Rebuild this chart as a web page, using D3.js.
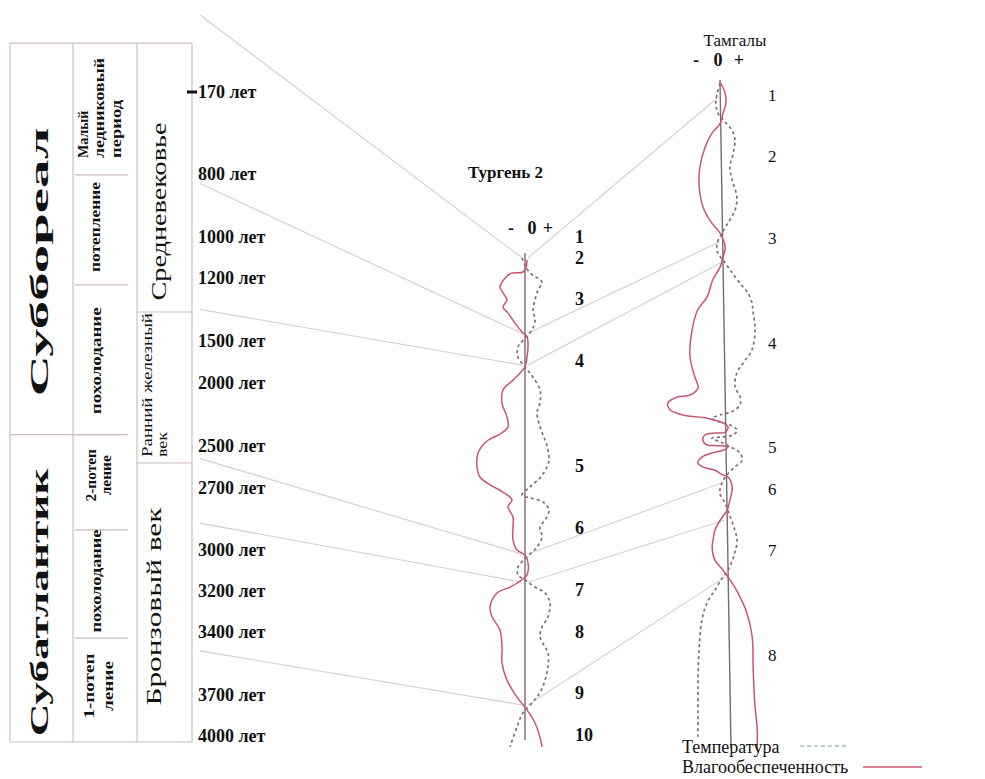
<!DOCTYPE html>
<html>
<head>
<meta charset="utf-8">
<script src="https://cdn.jsdelivr.net/npm/d3@7"></script>
<style>
  body { margin: 0; background: #fff; }
  svg { display: block; }
  text { font-family: "Liberation Serif", "Times New Roman", serif; fill: #111; }
</style>
</head>
<body>
<script>
// Left time scale, years ago
const ageTicks = [170, 800, 1000, 1200, 1500, 2000, 2500, 2700, 3000, 3200, 3400, 3700, 4000];

// Table rows as age boundaries
const epochNames = ["Суббореал", "Субатлантик"];
const epochBounds = [62, 2410, 4044];
const phaseNames = ["Малый\nледниковый\nпериод", "потепление", "похолодание", "2-потеп\nление", "похолодание", "1-потеп\nление"];
const phaseBounds = [62, 803, 1233, 2410, 2903, 3429, 4044];
const cultureNames = ["Средневековье", "Ранний железный\nвек", "Бронзовый век"];
const cultureBounds = [62, 1362, 2581, 4044];

// Correlation: age -> Тургень 2 depth (%) -> Тамгалы depth (%)
const corrAge = [0, 830, 1350, 2560, 2870, 3490];
const corrTurgen = [1, 16.5, 23, 61.8, 67.6, 92.8];
const corrTamgaly = [2.4, 24, 27.2, 60.1, 65.8, 74.3];

// Stage numbers, depth (%)
const turgenStages = [-3.3, 1, 9.4, 22.2, 43.7, 56.5, 69.2, 77.8, 90.3, 99];
const tamgalyStages = [2, 11.1, 23.4, 39.2, 54.8, 61.1, 70.3, 86];

// Curves: [depth %, anomaly]
const turgenMoisture = [[1.4,0.4],[3.1,0.2],[3.9,-0.4],[4.3,-3.0],[6.0,-4.6],[7.0,-5.0],[8.2,-4.4],[9.6,-3.6],[11.1,-4.4],[12.3,-3.4],[14.4,-2.0],[16.2,-0.6],[17.2,0.4],[19.3,0.6],[21.4,0.4],[23.4,0],[26.1,-2.4],[28.1,-4.4],[30.8,-4.6],[33.7,-3.6],[35.7,-3.4],[37.2,-5.0],[38.6,-7.6],[41.1,-9.4],[43.9,-9.6],[46.0,-9.0],[47.6,-7.0],[49.1,-4.4],[50.7,-2.6],[52.1,-3.4],[54.2,-2.4],[56.3,-2.4],[58.9,-2.4],[61.0,-1.6],[62.0,0],[63.6,0.6],[66.1,0.4],[67.1,-0.6],[68.6,-3.0],[69.8,-5.6],[72.7,-7.0],[74.7,-6.6],[77.4,-5.0],[80.9,-4.6],[84.2,-4.6],[87.7,-3.6],[91.2,-1.6],[93.8,0.4],[96.5,2.0],[99.4,3.0],[101.4,3.4]];
const turgenTemp = [[1.0,-0.6],[2.5,0],[4.1,1.0],[6.0,3.4],[7.6,2.6],[9.6,2.0],[11.7,1.6],[13.8,2.0],[15.8,1.4],[17.5,0],[19.3,-1.4],[21.4,-1.4],[23.4,0],[25.5,1.6],[28.1,3.0],[30.8,3.0],[32.8,2.4],[35.7,3.0],[38.4,4.0],[40.4,4.6],[42.5,4.8],[43.9,4.4],[46.2,3.0],[48.0,1.0],[49.7,-0.6],[50.3,1.0],[51.1,3.6],[52.8,4.8],[54.8,4.0],[56.3,3.0],[58.3,3.4],[60.4,2.4],[62.4,0.4],[64.5,-1.4],[66.1,-1.4],[67.1,0],[68.6,2.0],[69.8,4.0],[71.9,5.0],[74.7,4.6],[76.8,3.4],[78.8,3.0],[80.9,4.0],[82.1,4.6],[85.0,4.6],[87.7,4.0],[90.3,3.0],[92.4,1.4],[94.4,-0.4],[97.3,-1.6],[101.4,-3.0]];
const tamgalyMoisture = [[0,0],[1.7,1.0],[3.2,1.1],[4.7,0.5],[6.2,-0.1],[7.7,-1.8],[9.8,-3.2],[12.8,-4.3],[15.8,-4.5],[18.8,-3.8],[21.2,-2.1],[22.7,-0.5],[24.8,0.5],[26.3,0],[27.8,-0.6],[29.7,-2.1],[32.3,-3.3],[34.2,-5.2],[37.2,-6.4],[41.3,-6.9],[44.3,-6.0],[45.9,-5.4],[47.0,-7.0],[47.3,-9.6],[48.2,-11.5],[49.2,-11.1],[50.0,-8.5],[50.5,-3.7],[51.2,-0.5],[51.8,0.5],[52.6,-0.2],[52.7,-2.2],[53.0,-4.2],[53.8,-4.6],[54.5,-3.8],[54.6,-1.8],[54.8,0.4],[55.3,-0.6],[55.7,-2.8],[56.3,-4.8],[57.2,-5.7],[57.8,-4.7],[58.3,-2.3],[59.0,-0.7],[59.3,0.3],[60.8,1.1],[62.8,0.6],[64.3,0],[65.8,-1.4],[67.3,-2.5],[68.8,-2.9],[69.8,-3.1],[71.8,-2.6],[73.3,-1.0],[74.8,0.4],[76.7,1.9],[79.7,3.6],[83.3,4.6],[88.3,4.7],[93.2,4.9],[97.3,5.3],[100.3,5.2]];
const tamgalyTemp = [[0.2,0],[1.7,-0.6],[3.2,-0.9],[4.7,-0.5],[5.7,0.5],[7.2,2.2],[8.7,2.8],[10.7,2.4],[12.8,1.7],[14.7,2.1],[17.3,3.0],[19.2,2.6],[21.2,1.1],[22.7,-0.1],[24.2,-1.1],[25.7,-1.0],[26.7,0],[28.2,1.4],[30.2,3.3],[31.7,4.9],[33.2,5.7],[34.2,5.8],[37.2,6.2],[40.2,5.5],[42.2,3.7],[43.7,2.4],[45.8,2.0],[47.3,3.0],[48.5,2.9],[49.5,1.3],[50.0,-1.1],[50.5,-2.7],[51.1,-1.1],[51.5,0.9],[52.3,2.3],[53.0,1.4],[53.3,-0.8],[53.5,-2.8],[54.2,-0.6],[55.0,1.4],[55.7,2.8],[56.8,3.2],[57.8,1.7],[59.0,0.1],[60.2,-0.9],[61.7,-1.4],[63.2,-0.4],[65.3,0.6],[67.3,1.5],[68.8,1.9],[70.7,1.4],[73.3,0],[74.5,-1.2],[76.3,-2.7],[78.2,-4.3],[80.8,-5.4],[85.7,-6.1],[90.8,-6.4],[95.8,-6.5],[98.3,-6.6]];

const W = 985, H = 779;
const MOIST = "#c9566f", TEMP = "#8b6b72", AXIS = "#7b6b6b", GRID = "#d8cccc", TABLE = "#cdbebe";

const svg = d3.select("body").append("svg").attr("width", W).attr("height", H);

// uneven time axis: tick positions
const ageY = d3.scaleLinear()
    .domain([0, ...ageTicks])
    .range([15, 92, 174, 237, 278, 341, 383, 446, 488, 550, 591, 632, 695, 736]);

const turY = d3.scaleLinear().domain([0, 100]).range([253, 740]);
const turX = d3.scaleLinear().domain([-10, 10]).range([475, 575]);
const tamY = d3.scaleLinear().domain([0, 100]).range([82, 748]);
const tamX = d3.scaleLinear().domain([-10, 10]).range([670, 770]);
const tamTilt = 11 / 666; // the Тамгалы axis leans a little
const tamPx = (d, v) => tamX(v) + (tamY(d) - tamY(0)) * tamTilt;

// ---- correlation lines (behind everything)
const grid = svg.append("g").attr("stroke", GRID).attr("stroke-width", 1.1).attr("fill", "none");
corrAge.forEach((a, i) => {
    grid.append("line")
        .attr("x1", 200).attr("y1", ageY(a))
        .attr("x2", turX(-0.6)).attr("y2", turY(corrTurgen[i]));
    grid.append("line")
        .attr("x1", turX(0.6)).attr("y1", turY(corrTurgen[i]))
        .attr("x2", tamPx(corrTamgaly[i], -0.6)).attr("y2", tamY(corrTamgaly[i]));
});

// ---- table
const cols = [10, 73, 137, 192];
const table = svg.append("g").attr("stroke", TABLE).attr("stroke-width", 1.2);
const tableTop = ageY(epochBounds[0]), tableBottom = ageY(epochBounds[2]);
cols.forEach(x => table.append("line").attr("x1", x).attr("x2", x).attr("y1", tableTop).attr("y2", tableBottom));
table.append("line").attr("x1", cols[0]).attr("x2", cols[3]).attr("y1", tableTop).attr("y2", tableTop);
table.append("line").attr("x1", cols[0]).attr("x2", cols[3]).attr("y1", tableBottom).attr("y2", tableBottom);
table.append("line").attr("x1", cols[0]).attr("x2", 125).attr("y1", ageY(epochBounds[1])).attr("y2", ageY(epochBounds[1]));
phaseBounds.slice(1, -1).forEach(a => {
    table.append("line").attr("x1", 75).attr("x2", 128).attr("y1", ageY(a)).attr("y2", ageY(a));
});
cultureBounds.slice(1, -1).forEach(a => {
    table.append("line").attr("x1", cols[2]).attr("x2", cols[3]).attr("y1", ageY(a)).attr("y2", ageY(a));
});

// vertical text; lines = [{t, x, len | stretch}], y = anchor point
function vtext(lines, y, size, weight, anchor) {
    lines.forEach(l => {
        const t = svg.append("text")
            .attr("transform", `translate(${l.x},${y}) rotate(-90)`)
            .attr("text-anchor", anchor)
            .attr("font-size", size)
            .attr("font-weight", weight)
            .text(l.t);
        const len = l.len || (l.stretch ? t.node().getComputedTextLength() * l.stretch : 0);
        if (len) t.attr("textLength", len).attr("lengthAdjust", "spacingAndGlyphs");
    });
}
const mid = (b, i) => (ageY(b[i]) + ageY(b[i + 1])) / 2;

vtext([{t: epochNames[0], x: 48, len: 269}], mid(epochBounds, 0) + 23, 25, "bold", "middle");
vtext([{t: epochNames[1], x: 48, len: 268}], mid(epochBounds, 1) + 14, 25, "bold", "middle");

const phaseLayout = [
    {anchor: "start", y: ageY(phaseBounds[1]) - 17, xs: [88, 104, 121], lens: [null, 100, 58], stretch: [1.0]},
    {anchor: "middle", dy: -3, xs: [100], lens: [90]},
    {anchor: "middle", dy: 1, xs: [101], lens: [107]},
    {anchor: "middle", dy: -7, xs: [96, 111], stretch: [1.1, 1.1]},
    {anchor: "middle", dy: -3, xs: [101], lens: [103]},
    {anchor: "middle", dy: -4, xs: [94, 113], lens: [65, 50]}
];
phaseNames.forEach((name, i) => {
    const L = phaseLayout[i];
    const y = L.anchor === "start" ? L.y : mid(phaseBounds, i) + L.dy;
    vtext(name.split("\n").map((t, j) => ({
        t, x: L.xs[j],
        len: L.lens ? L.lens[j] : null,
        stretch: L.stretch ? L.stretch[j] : null
    })), y, 14, "bold", L.anchor);
});

const cultureLayout = [
    {anchor: "middle", dy: 34, xs: [166], lens: [178], size: 20},
    {anchor: "start", y: ageY(cultureBounds[2]) - 6, xs: [152, 167], lens: [144, 25], size: 14},
    {anchor: "middle", dy: 4, xs: [161], lens: [198], size: 20}
];
cultureNames.forEach((name, i) => {
    const L = cultureLayout[i];
    const y = L.anchor === "start" ? L.y : mid(cultureBounds, i) + L.dy;
    vtext(name.split("\n").map((t, j) => ({t, x: L.xs[j], len: L.lens[j]})), y, L.size, "normal", L.anchor);
});

// ---- age labels
svg.append("line").attr("x1", 187).attr("x2", 197)
    .attr("y1", ageY(ageTicks[0])).attr("y2", ageY(ageTicks[0]))
    .attr("stroke", "#111").attr("stroke-width", 3);
svg.append("g").selectAll("text").data(ageTicks).join("text")
    .attr("x", 198).attr("y", d => ageY(d)).attr("dy", "0.35em")
    .attr("font-size", 18).attr("font-weight", "bold")
    .text(d => `${d} лет`);

// ---- site columns
const smooth = d3.curveCatmullRom.alpha(0.5);

// Тургень 2
svg.append("line").attr("x1", turX(0)).attr("x2", turX(0)).attr("y1", turY(0)).attr("y2", turY(100))
    .attr("stroke", AXIS).attr("stroke-width", 1.4);
const turLine = d3.line().x(p => turX(p[1])).y(p => turY(p[0])).curve(smooth);
svg.append("path").attr("d", turLine(turgenTemp)).attr("fill", "none")
    .attr("stroke", TEMP).attr("stroke-width", 1.7).attr("stroke-dasharray", "3,3");
svg.append("path").attr("d", turLine(turgenMoisture)).attr("fill", "none")
    .attr("stroke", MOIST).attr("stroke-width", 1.5);

// Тамгалы
svg.append("line").attr("x1", tamPx(0, 0)).attr("x2", tamPx(100, 0)).attr("y1", tamY(0) - 2).attr("y2", tamY(100))
    .attr("stroke", AXIS).attr("stroke-width", 1.4);
const tamLine = d3.line().x(p => tamPx(p[0], p[1])).y(p => tamY(p[0])).curve(smooth);
svg.append("path").attr("d", tamLine(tamgalyTemp)).attr("fill", "none")
    .attr("stroke", TEMP).attr("stroke-width", 1.7).attr("stroke-dasharray", "3,3");
svg.append("path").attr("d", tamLine(tamgalyMoisture)).attr("fill", "none")
    .attr("stroke", MOIST).attr("stroke-width", 1.5);

// stage numbers
svg.append("g").selectAll("text").data(turgenStages).join("text")
    .attr("x", 575).attr("y", d => turY(d)).attr("dy", "0.35em")
    .attr("font-size", 18).attr("font-weight", "bold")
    .text((d, i) => i + 1);
svg.append("g").selectAll("text").data(tamgalyStages).join("text")
    .attr("x", 768).attr("y", d => tamY(d)).attr("dy", "0.35em")
    .attr("font-size", 17)
    .text((d, i) => i + 1);

// titles
svg.append("text").attr("x", 468).attr("y", 178).attr("font-size", 17).attr("font-weight", "bold").text("Тургень 2");
const signs = svg.append("g").attr("font-size", 18).attr("font-weight", "bold").attr("text-anchor", "middle");
[["-", 511], ["0", 532], ["+", 548]].forEach(([s, x]) => signs.append("text").attr("x", x).attr("y", 234).text(s));
svg.append("text").attr("x", 735).attr("y", 46).attr("text-anchor", "middle").attr("font-size", 17).text("Тамгалы");
[["-", 696], ["0", 718], ["+", 739]].forEach(([s, x]) => signs.append("text").attr("x", x).attr("y", 66).text(s));

// legend
const legend = svg.append("g").attr("font-size", 18);
legend.append("text").attr("x", 682).attr("y", 753).text("Температура");
legend.append("line").attr("x1", 800).attr("x2", 847).attr("y1", 746).attr("y2", 746)
    .attr("stroke", "#a3bccd").attr("stroke-width", 1.3).attr("stroke-dasharray", "4,3");
legend.append("text").attr("x", 682).attr("y", 773).text("Влагообеспеченность");
legend.append("line").attr("x1", 863).attr("x2", 922).attr("y1", 767).attr("y2", 767)
    .attr("stroke", MOIST).attr("stroke-width", 1.3);
</script>
</body>
</html>
